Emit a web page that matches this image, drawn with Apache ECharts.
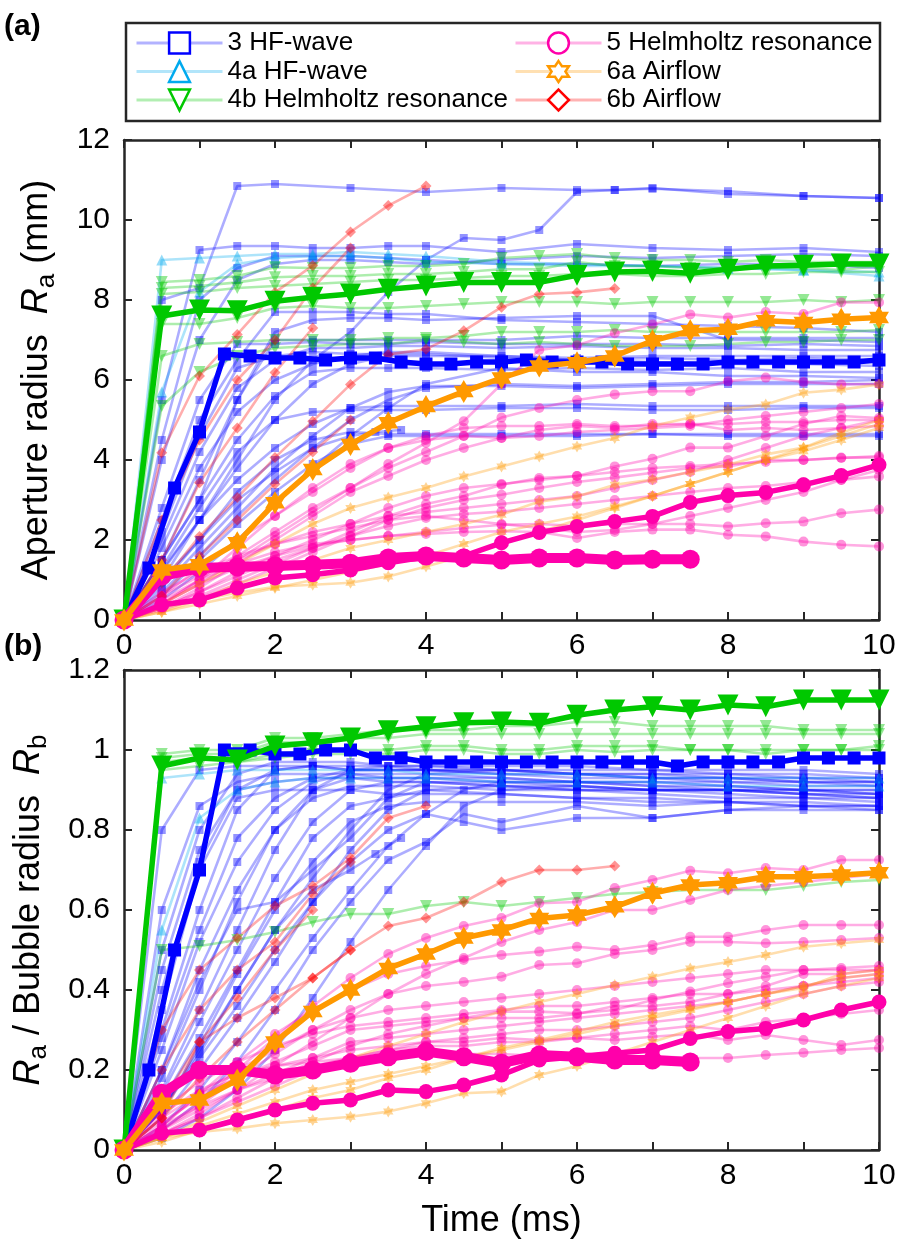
<!DOCTYPE html>
<html><head><meta charset="utf-8">
<script src="https://cdn.jsdelivr.net/npm/echarts@6/dist/echarts.min.js"></script>
<style>html,body{margin:0;padding:0;background:#fff}#c{width:898px;height:1253px}</style>
</head><body><div id="c"></div>
<script>
// ---------- time grids ----------
const tHalf = [0,0.5,1,1.5,2,2.5,3,3.5,4,4.5,5,5.5,6,6.5,7,7.5,8,8.5,9,9.5,10];
const tMix = [0,0.5,1,1.5,2,2.5,3,3.5,4,5,6,7,8,9,10];
const tMix45 = [0,0.5,1,1.5,2,2.5,3,3.5,4,4.5,5,6,7,8,9,10];
const tThird = [0,0.33,0.67,1,1.33,1.67,2,2.33,2.67,3,3.33,3.67,4,4.33,4.67,5,5.33,5.67,6,6.33,6.67,7,7.33,7.67,8,8.33,8.67,9,9.33,9.67,10];
const xTicks = [0,2,4,6,8,10];

// ---------- panel (a): aperture radius (mm) ----------
const blueA_mix = [
 [0,5.5,9.25,9.35,9.35,9.3,9.3,9.35,9.35,9.2,9.4,9.3,9.25,9.3,9.2],
 [0,4.0,7.0,8.5,8.9,9.0,9.0,8.95,8.9,9.0,9.1,9.05,9.1,9.15,9.1],
 [0,2.5,5.0,6.5,7.7,7.7,7.7,7.65,7.65,7.5,7.45,7.4,7.35,7.3,7.2],
 [0,1.5,3.0,5.5,7.2,7.5,7.55,7.55,7.5,7.55,7.6,7.6,7.0,7.0,6.95],
 [0,1.5,3.5,5.5,7.0,7.0,7.0,7.0,7.0,7.0,7.1,7.05,7.05,7.05,7.05],
 [0,2.0,4.2,5.8,6.5,6.8,6.8,6.85,6.85,6.8,6.85,6.8,6.8,6.75,6.75],
 [0,1.0,2.5,3.8,5.0,5.9,6.4,6.6,6.6,6.6,6.55,6.6,6.6,6.6,6.6],
 [0,1.5,3.0,4.5,5.6,6.2,6.3,6.3,6.3,6.25,6.3,6.25,6.3,6.2,6.2],
 [0,0.8,1.8,2.8,3.8,4.6,5.3,5.7,5.85,5.85,5.8,5.85,5.9,5.9,5.9],
 [0,1.2,2.5,3.5,4.3,4.9,5.3,5.35,5.35,5.35,5.4,5.35,5.35,5.35,5.35],
 [0,1.0,2.0,3.2,4.0,4.5,4.7,4.65,4.65,4.65,4.65,4.65,4.65,4.65,4.65],
 [0,0.6,1.5,2.4,3.2,3.9,4.4,4.6,4.6,4.6,4.6,4.65,4.6,4.6,4.6],
 [0,1.8,3.8,5.2,6.0,6.4,6.6,6.7,6.7,6.6,6.5,6.45,6.4,6.4,6.35],
 [0,0.5,1.2,2.0,2.9,3.8,4.6,5.3,5.9,6.3,6.2,6.2,6.1,6.1,6.05],
 [0,2.8,5.5,6.9,6.9,6.95,6.9,6.9,6.95,6.9,6.9,6.9,6.85,6.9,6.85],
 [0,1.3,2.8,4.2,5.0,5.2,5.25,5.25,5.25,5.3,5.3,5.25,5.25,5.3,5.3],
 [0,4.5,8.0,8.8,9.1,9.1,9.1,9.05,9.0,8.9,8.9,8.85,8.9,8.9,8.8],
 [0,2.2,4.6,6.3,6.6,6.7,6.65,6.65,6.65,6.55,6.5,6.55,6.5,6.55,6.5],
 [0,0.7,1.6,2.6,3.5,4.3,5.0,5.5,5.8,5.9,5.85,5.9,5.95,5.95,6.0]
];
const blueA_pairs = [
 [[0,0],[0.5,8.0],[1,8.3],[1.5,10.85],[2,10.9],[3,10.8],[4,10.7],[5,10.8],[6,10.75],[6.5,10.75],[7,10.8],[8,10.65],[9,10.6],[10,10.55]],
 [[0,0],[1,2.5],[1.5,4.0],[2,5.5],[2.5,6.5],[3,7.2],[3.5,8.2],[4,9.0],[4.5,9.55],[5,9.5],[5.5,9.75],[6,10.7],[6.5,10.75],[7,10.78],[8,10.72],[9,10.6],[10,10.55]],
 [[0,0],[0.5,0.9],[1,2.0],[1.5,3.0],[2,3.7],[2.5,4.3],[3,4.6],[3.33,4.7],[3.67,4.75]]
];
const cyanA = [
 [0,9.0,9.05,9.1,9.15,9.15,9.2,9.15,9.1,8.95,8.9,8.85,8.8,8.75,8.6],
 [0,5.7,8.2,8.9,9.05,9.1,9.1,9.05,8.95,8.9,8.85,8.85,8.8,8.75,8.7]
];
const greenA = [
 [0,8.45,8.5,8.6,8.82,8.8,8.8,8.85,8.85,8.9,9.05,9.1,9.15,9.05,9.0,9.0,8.95,9.0,8.95,8.95,8.95],
 [0,8.3,8.35,8.44,8.57,8.6,8.6,8.65,8.65,8.7,8.77,8.77,8.95,8.85,8.85,8.8,8.8,8.8,8.8,8.75,8.85],
 [0,8.15,8.2,8.3,8.35,8.4,8.45,8.5,8.5,8.55,8.6,8.6,8.65,8.65,8.6,8.6,8.65,8.65,8.7,8.7,8.7],
 [0,7.4,7.4,7.55,7.8,7.85,7.8,7.8,7.85,7.9,7.95,7.95,7.95,7.9,7.95,7.95,7.95,7.95,8.0,7.95,8.0],
 [0,6.6,6.9,6.95,7.0,7.0,7.0,7.05,7.05,7.1,7.2,7.2,7.2,7.25,7.2,7.2,7.2,7.2,7.2,7.2,7.25],
 [0,5.35,6.2,6.6,6.8,6.85,6.9,6.9,7.0,6.95,6.9,6.95,6.9,6.85,6.85,6.85,6.9,6.95,6.95,7.0,7.0]
];
const pinkA = [
 [0,0.4,1.0,1.6,2.2,2.8,3.3,3.9,4.43,4.97,5.9,6.75,6.87,7.17,7.39,7.64,7.56,7.7,7.65,7.94,7.94],
 [0,0.4,0.9,1.5,2.1,2.7,3.3,3.8,4.2,4.6,5.06,5.3,5.5,5.64,5.72,5.72,5.97,6.06,5.95,5.89,5.9],
 [0,0.6,1.3,2.0,2.6,3.2,3.8,4.3,4.6,4.8,4.85,4.85,4.9,4.85,4.85,4.9,4.9,4.95,4.95,5.0,5.0],
 [0,0.3,0.8,1.4,2.0,2.6,3.2,3.6,4.0,4.3,4.55,4.75,4.85,4.8,4.9,4.9,4.75,4.8,4.75,4.8,4.85],
 [0,0.3,0.7,1.2,1.6,2.0,2.4,2.8,3.1,3.3,3.4,3.5,3.6,3.7,3.8,3.85,3.9,3.95,4.0,4.05,4.1],
 [0,0.3,0.6,1.0,1.4,1.8,2.2,2.6,2.9,3.1,3.38,3.55,3.6,3.84,4.03,4.31,4.31,4.6,4.9,5.1,5.05],
 [0,0.25,0.55,0.9,1.3,1.7,2.1,2.5,2.8,3.0,3.13,3.3,3.45,3.56,3.68,3.8,3.84,4.0,4.0,4.06,4.06],
 [0,0.3,0.7,1.1,1.5,1.8,2.1,2.35,2.55,2.65,2.71,2.8,2.9,3.0,3.1,3.2,3.3,3.35,3.45,3.5,3.59],
 [0,0.4,0.9,1.3,1.6,1.85,2.0,2.1,2.2,2.3,2.38,2.4,2.35,2.4,2.4,2.4,2.34,2.42,2.46,2.67,2.76],
 [0,0.5,1.0,1.4,1.7,1.9,2.0,2.1,2.15,2.2,2.22,2.2,2.05,2.2,2.26,2.26,2.13,2.09,1.96,1.88,1.84],
 [0,0.6,1.1,1.5,1.9,2.2,2.4,2.6,2.7,2.8,2.9,3.0,3.1,3.3,3.5,3.7,4.0,4.3,4.6,4.8,5.0],
 [0,0.7,1.2,1.6,1.9,2.1,2.3,2.5,2.6,2.5,2.4,2.3,2.2,2.25,2.4,2.6,2.8,3.0,3.2,3.5,3.75],
 [0,0.4,1.0,1.8,2.6,3.3,3.9,4.3,4.5,4.6,4.55,4.6,4.7,4.75,4.8,4.85,5.0,5.1,5.2,5.3,5.4]
];
const orangeA = [
 [0,0.3,0.5,0.68,0.83,0.88,0.93,1.09,1.34,1.6,1.9,2.2,2.5,2.8,3.1,3.4,3.7,4.0,4.3,4.6,4.9],
 [0,0.4,0.9,1.4,1.9,2.4,2.8,3.06,3.3,3.59,3.84,4.09,4.34,4.55,4.85,5.06,5.26,5.39,5.68,5.76,5.89],
 [0,0.2,0.5,0.9,1.2,1.5,1.8,2.0,2.2,2.4,2.63,2.96,3.09,3.38,3.51,3.7,3.88,4.14,4.31,4.68,5.0],
 [0,0.2,0.4,0.6,0.8,1.0,1.2,1.4,1.6,1.9,2.2,2.4,2.59,2.84,3.1,3.4,3.7,4.0,4.22,4.5,4.8]
];
const redA = [
 [0,4.18,6.1,7.14,8.19,8.86,9.7,10.36,10.85],
 [0,0.93,2.09,3.06,4.06,4.97,5.89,6.64,6.77,7.23,7.82,8.15,8.19,8.29],
 [0,2.5,4.5,6.0,7.0,8.3,9.3],
 [0,1.5,3.43,4.8,6.19,7.3],
 [0,0.6,1.6,2.5,3.4,4.2,5.0]
];
const boldBlueA = [0,1.3,3.3,4.7,6.65,6.6,6.55,6.55,6.5,6.55,6.55,6.45,6.4,6.4,6.45,6.45,6.5,6.45,6.45,6.45,6.4,6.4,6.4,6.4,6.45,6.45,6.45,6.45,6.45,6.45,6.5];
const boldGreenA = [0,7.6,7.75,7.73,7.97,8.07,8.15,8.27,8.35,8.44,8.44,8.44,8.62,8.7,8.72,8.67,8.77,8.85,8.87,8.9,8.9];
const boldOrangeA = [0,1.25,1.38,1.93,2.93,3.76,4.39,4.93,5.34,5.71,6.05,6.35,6.43,6.6,6.98,7.23,7.27,7.48,7.44,7.52,7.56];
const boldPink1A = [0,1.1,1.3,1.33,1.35,1.38,1.42,1.55,1.6,1.55,1.5,1.55,1.55,1.5,1.52,1.52];
const boldPink2A = [0,0.38,0.5,0.8,1.05,1.13,1.25,1.43,1.58,1.6,1.93,2.19,2.34,2.46,2.59,2.94,3.11,3.19,3.38,3.61,3.88];

// ---------- panel (b): Ra / Rb ----------
const blueB_mix = [
 [0,0.8,0.95,0.96,0.96,0.96,0.95,0.95,0.95,0.94,0.93,0.93,0.92,0.92,0.91],
 [0,0.3,0.6,0.85,0.95,0.96,0.95,0.95,0.95,0.95,0.94,0.94,0.93,0.93,0.92],
 [0,0.15,0.35,0.55,0.75,0.9,0.95,0.96,0.95,0.95,0.94,0.93,0.93,0.92,0.92],
 [0,0.1,0.25,0.4,0.55,0.68,0.8,0.9,0.94,0.95,0.94,0.94,0.94,0.93,0.93],
 [0,0.45,0.75,0.9,0.92,0.93,0.93,0.92,0.92,0.91,0.9,0.9,0.89,0.88,0.88],
 [0,0.6,0.86,0.92,0.94,0.94,0.94,0.93,0.93,0.93,0.92,0.92,0.91,0.9,0.9],
 [0,0.2,0.45,0.65,0.8,0.88,0.91,0.91,0.91,0.9,0.9,0.89,0.88,0.88,0.87],
 [0,0.08,0.2,0.33,0.47,0.62,0.75,0.85,0.9,0.91,0.91,0.9,0.9,0.89,0.89],
 [0,0.12,0.28,0.45,0.62,0.78,0.86,0.88,0.9,0.89,0.88,0.87,0.87,0.86,0.86],
 [0,0.5,0.8,0.94,0.97,0.97,0.97,0.96,0.96,0.96,0.96,0.95,0.95,0.95,0.94],
 [0,0.35,0.7,0.88,0.9,0.9,0.9,0.89,0.89,0.89,0.88,0.88,0.87,0.87,0.86],
 [0,0.18,0.4,0.62,0.8,0.9,0.93,0.93,0.93,0.92,0.92,0.91,0.91,0.9,0.9],
 [0,0.25,0.52,0.72,0.85,0.92,0.94,0.94,0.94,0.93,0.92,0.92,0.92,0.91,0.91],
 [0,0.4,0.72,0.9,0.95,0.96,0.96,0.96,0.96,0.95,0.95,0.95,0.94,0.94,0.93],
 [0,0.14,0.32,0.5,0.68,0.82,0.9,0.92,0.92,0.91,0.9,0.9,0.9,0.89,0.88],
 [0,0.2,0.42,0.6,0.62,0.7,0.78,0.88,0.92,0.92,0.91,0.9,0.9,0.9,0.89],
 [0,0.28,0.55,0.78,0.88,0.93,0.95,0.95,0.95,0.94,0.94,0.93,0.93,0.92,0.92],
 [0,0.1,0.26,0.44,0.6,0.72,0.82,0.86,0.87,0.87,0.87,0.86,0.87,0.86,0.86]
];
const blueB_mix45 = [
 [0,0.05,0.12,0.22,0.35,0.5,0.62,0.725,0.77,0.84,0.82,0.86,0.83,0.85,0.85,0.85],
 [0,0.06,0.15,0.27,0.4,0.53,0.65,0.76,0.84,0.9,0.92,0.92,0.91,0.9,0.9,0.89],
 [0,0.1,0.23,0.36,0.5,0.62,0.72,0.8,0.84,0.82,0.8,0.83,0.83,0.85,0.86,0.85],
 [0,0.03,0.08,0.15,0.25,0.38,0.52,0.65,0.76,0.86,0.9,0.91,0.9,0.9,0.89,0.88]
];
const blueB_pairs = [
 [[0,0],[0.5,0.1],[1,0.24],[1.5,0.4],[2,0.55],[2.5,0.65],[3,0.7],[3.33,0.74],[3.67,0.78]]
];
const cyanB = [
 [0,0.93,0.94,0.95,0.95,0.95,0.95,0.95,0.94,0.94,0.94,0.93,0.93,0.93,0.93],
 [0,0.55,0.83,0.9,0.92,0.93,0.93,0.93,0.93,0.92,0.92,0.92,0.91,0.91,0.91]
];
const greenB = [
 [0,0.99,1.0,1.0,1.03,1.03,1.04,1.05,1.05,1.05,1.06,1.06,1.07,1.07,1.06,1.06,1.06,1.06,1.05,1.05,1.05],
 [0,0.98,0.99,0.99,1.02,1.02,1.03,1.03,1.04,1.04,1.04,1.04,1.04,1.04,1.04,1.04,1.04,1.04,1.04,1.04,1.04],
 [0,0.97,0.98,0.97,0.99,1.0,1.0,1.0,1.01,1.01,1.0,1.0,1.01,1.01,1.01,1.0,1.0,1.0,1.0,1.0,1.01],
 [0,0.95,0.96,0.97,0.98,0.99,0.99,0.99,1.0,1.0,0.99,0.99,1.0,0.995,1.0,1.0,1.0,0.99,1.0,1.0,1.0],
 [0,0.5,0.51,0.525,0.545,0.57,0.59,0.59,0.61,0.62,0.61,0.62,0.63,0.64,0.645,0.65,0.65,0.65,0.66,0.67,0.675]
];
const pinkB = [
 [0,0.05,0.12,0.2,0.28,0.36,0.43,0.49,0.53,0.56,0.58,0.617,0.62,0.655,0.675,0.698,0.692,0.705,0.70,0.725,0.725],
 [0,0.04,0.09,0.15,0.21,0.27,0.33,0.39,0.44,0.48,0.52,0.55,0.57,0.6,0.6,0.625,0.65,0.66,0.67,0.68,0.69],
 [0,0.06,0.14,0.22,0.29,0.35,0.4,0.44,0.46,0.475,0.4875,0.496,0.508,0.5,0.5125,0.533,0.533,0.55,0.5625,0.5625,0.5625],
 [0,0.05,0.11,0.18,0.24,0.3,0.35,0.39,0.41,0.42,0.433,0.4625,0.467,0.49,0.5,0.52,0.52,0.517,0.52,0.525,0.53],
 [0,0.04,0.08,0.13,0.18,0.22,0.26,0.29,0.31,0.33,0.346,0.346,0.342,0.35,0.375,0.396,0.417,0.433,0.45,0.455,0.46],
 [0,0.07,0.13,0.18,0.22,0.26,0.3,0.31,0.32,0.33,0.33,0.33,0.34,0.36,0.36,0.37,0.39,0.41,0.44,0.44,0.45],
 [0,0.05,0.1,0.15,0.19,0.23,0.27,0.28,0.29,0.3,0.31,0.32,0.33,0.34,0.35,0.36,0.37,0.39,0.41,0.43,0.44],
 [0,0.04,0.08,0.12,0.16,0.2,0.23,0.25,0.27,0.28,0.29,0.3,0.3,0.31,0.32,0.33,0.35,0.37,0.39,0.41,0.42],
 [0,0.06,0.11,0.15,0.18,0.21,0.23,0.25,0.26,0.26,0.27,0.27,0.28,0.29,0.3,0.31,0.3,0.32,0.33,0.34,0.35],
 [0,0.08,0.14,0.18,0.21,0.23,0.25,0.26,0.27,0.27,0.28,0.275,0.28,0.275,0.283,0.29,0.275,0.2875,0.275,0.2625,0.275],
 [0,0.09,0.15,0.19,0.21,0.22,0.23,0.235,0.24,0.24,0.24,0.235,0.23,0.23,0.235,0.23,0.23,0.2375,0.243,0.25,0.255],
 [0,0.06,0.14,0.2,0.25,0.3,0.33,0.35,0.36,0.37,0.38,0.39,0.4,0.41,0.42,0.43,0.44,0.45,0.45,0.45,0.45],
 [0,0.1,0.17,0.22,0.26,0.29,0.31,0.32,0.33,0.34,0.35,0.36,0.36,0.37,0.38,0.39,0.39,0.40,0.41,0.42,0.43]
];
const orangeB = [
 [0,0.03,0.045,0.054,0.067,0.075,0.083,0.096,0.117,0.142,0.146,0.1875,0.21,0.24,0.27,0.3,0.33,0.36,0.39,0.41,0.43],
 [0,0.03,0.07,0.11,0.15,0.19,0.23,0.26,0.29,0.32,0.346,0.37,0.39,0.4125,0.433,0.454,0.47,0.4875,0.508,0.517,0.525],
 [0,0.02,0.05,0.08,0.1,0.13,0.15,0.18,0.2,0.23,0.255,0.275,0.296,0.32,0.3375,0.354,0.37,0.39,0.405,0.44,0.45],
 [0,0.03,0.06,0.09,0.12,0.15,0.17,0.19,0.21,0.23,0.25,0.27,0.29,0.31,0.33,0.35,0.37,0.39,0.41,0.43,0.44]
];
const redB = [
 [0,0.3,0.45,0.53,0.61,0.66,0.73,0.83,0.86],
 [0,0.08,0.27,0.33,0.38,0.43,0.5,0.56,0.58,0.62,0.67,0.7,0.7,0.71],
 [0,0.2,0.35,0.45,0.52,0.64,0.72],
 [0,0.12,0.27,0.38,0.5,0.6],
 [0,0.08,0.18,0.27,0.35,0.43,0.5]
];
const boldBlueB = [0,0.2,0.5,0.7,1.0,1.0,0.99,0.99,1.0,1.0,0.98,0.98,0.97,0.97,0.97,0.97,0.97,0.97,0.97,0.97,0.97,0.97,0.96,0.97,0.97,0.97,0.97,0.98,0.98,0.98,0.98];
const boldGreenB = [0,0.96,0.98,0.975,1.01,1.018,1.03,1.048,1.058,1.068,1.07,1.067,1.087,1.1,1.108,1.1,1.1125,1.108,1.125,1.125,1.125];
const boldOrangeB = [0,0.117,0.125,0.175,0.27,0.346,0.40,0.454,0.49,0.53,0.55,0.579,0.5875,0.608,0.642,0.6625,0.668,0.683,0.683,0.6875,0.693];
const boldPink1B = [0,0.142,0.2,0.2,0.1875,0.2,0.217,0.233,0.246,0.233,0.217,0.2375,0.233,0.225,0.225,0.22];
const boldPink2B = [0,0.042,0.05,0.075,0.1,0.117,0.125,0.15,0.146,0.1625,0.1875,0.225,0.233,0.242,0.25,0.279,0.296,0.304,0.325,0.35,0.37];

const legendNames = ['3 HF-wave','4a HF-wave','4b Helmholtz resonance','5 Helmholtz resonance','6a Airflow','6b Airflow'];

// ---------- styles ----------
const FONT = '"Liberation Sans", Arial, Helvetica, sans-serif';
const AX = '#262626';
const STAR = 'path://M100,0L128.9,50L186.6,50L157.7,100L186.6,150L128.9,150L100,200L71.1,150L13.4,150L42.3,100L13.4,50L71.1,50Z';
const S = {
  blue:   {color:'#0000FF', symbol:'rect', size:8, rot:0},
  cyan:   {color:'#00AAEE', symbol:'triangle', size:11, rot:0},
  green:  {color:'#00C800', symbol:'triangle', size:12, rot:180},
  pink:   {color:'#FF00AA', symbol:'circle', size:10, rot:0},
  orange: {color:'#FF9900', symbol:STAR, size:12, rot:0},
  red:    {color:'#FF0000', symbol:'diamond', size:11, rot:0}
};

const pairs = (t, v) => v.map((y, i) => [t[i], y]);

function faint(data, st, ax) {
  return {type:'line', xAxisIndex:ax, yAxisIndex:ax, data:data, symbol:st.symbol, symbolSize:st.size,
    symbolRotate:st.rot, showSymbol:true, showAllSymbol:true, symbolKeepAspect:true,
    lineStyle:{color:st.color, width:2.6, opacity:0.32}, itemStyle:{color:st.color, opacity:0.42},
    emphasis:{disabled:true}, silent:true, z:2, animation:false};
}
function bold(data, st, ax, lw, sz, z) {
  return {type:'line', xAxisIndex:ax, yAxisIndex:ax, data:data, symbol:st.symbol, symbolSize:sz,
    symbolRotate:st.rot, showSymbol:true, showAllSymbol:true, symbolKeepAspect:true,
    lineStyle:{color:st.color, width:lw, opacity:1}, itemStyle:{color:st.color, opacity:1},
    emphasis:{disabled:true}, silent:true, z:z, animation:false};
}

const series = [];
// panel a faint
blueA_mix.forEach(v => series.push(faint(pairs(tMix, v), S.blue, 0)));
blueA_pairs.forEach(p => series.push(faint(p, S.blue, 0)));
cyanA.forEach(v => series.push(faint(pairs(tMix, v), S.cyan, 0)));
greenA.forEach(v => series.push(faint(pairs(tHalf, v), S.green, 0)));
pinkA.forEach(v => series.push(faint(pairs(tHalf, v), S.pink, 0)));
orangeA.forEach(v => series.push(faint(pairs(tHalf, v), S.orange, 0)));
redA.forEach(v => series.push(faint(pairs(tHalf, v), S.red, 0)));
// panel b faint
blueB_mix.forEach(v => series.push(faint(pairs(tMix, v), S.blue, 2)));
blueB_mix45.forEach(v => series.push(faint(pairs(tMix45, v), S.blue, 2)));
blueB_pairs.forEach(p => series.push(faint(p, S.blue, 2)));
cyanB.forEach(v => series.push(faint(pairs(tMix, v), S.cyan, 2)));
greenB.forEach(v => series.push(faint(pairs(tHalf, v), S.green, 2)));
pinkB.forEach(v => series.push(faint(pairs(tHalf, v), S.pink, 2)));
orangeB.forEach(v => series.push(faint(pairs(tHalf, v), S.orange, 2)));
redB.forEach(v => series.push(faint(pairs(tHalf, v), S.red, 2)));
// bold
[[0, boldBlueA, boldGreenA, boldOrangeA, boldPink1A, boldPink2A],
 [2, boldBlueB, boldGreenB, boldOrangeB, boldPink1B, boldPink2B]].forEach(g => {
  const ax = g[0];
  series.push(bold(pairs(tThird, g[1]), S.blue, ax, 5.5, 13, 5));
  series.push(bold(pairs(tHalf, g[2]), S.green, ax, 5.5, 21, 6));
  series.push(bold(pairs(tHalf, g[5]), S.pink, ax, 5.5, 15, 7));
  series.push(bold(pairs(tHalf, g[4]), S.pink, ax, 10, 19, 7));
  series.push(bold(pairs(tHalf, g[3]), S.orange, ax, 5.5, 23, 8));
});
// legend dummies
const legStyles = [S.blue, S.cyan, S.green, S.pink, S.orange, S.red];
legendNames.forEach((n, i) => {
  const st = legStyles[i];
  series.push({type:'line', name:n, xAxisIndex:0, yAxisIndex:0, data:[], symbol:st.symbol, symbolRotate:st.rot,
    symbolKeepAspect:true, lineStyle:{color:st.color, opacity:0.3, width:3}, itemStyle:{color:st.color}});
});
const legItem = i => ({name:legendNames[i], itemStyle:{color:'#fff', borderColor:legStyles[i].color, borderWidth:2.5, opacity:1},
  lineStyle:{color:legStyles[i].color, opacity:0.3, width:3}});

function xAx(grid, pos, labels, name) {
  return {type:'value', gridIndex:grid, position:pos, min:0, max:10, interval:1,
    axisLine:{show:true, onZero:false, lineStyle:{color:AX, width:2.5}},
    axisTick:{show:true, inside:true, length:8, lineStyle:{color:AX, width:2}},
    axisLabel:{show:labels, formatter:v => (xTicks.indexOf(v) >= 0 ? String(v) : ''), fontSize:30, color:'#000', fontFamily:FONT, margin:11},
    splitLine:{show:false},
    name:name || '', nameLocation:'middle', nameGap:53, nameTextStyle:{fontSize:36, color:'#000', fontFamily:FONT}};
}
const richName = {
  t:{fontSize:36, fontFamily:FONT, color:'#000'},
  i:{fontSize:36, fontFamily:FONT, fontStyle:'italic', color:'#000'},
  s:{fontSize:26, fontFamily:FONT, color:'#000', padding:[20,0,0,0]}
};
function yAx(grid, pos, max, interval, labels, name, gap) {
  return {type:'value', gridIndex:grid, position:pos, min:0, max:max, interval:interval,
    axisLine:{show:true, onZero:false, lineStyle:{color:AX, width:2.5}},
    axisTick:{show:true, inside:true, length:8, lineStyle:{color:AX, width:2}},
    axisLabel:{show:labels, fontSize:30, color:'#000', fontFamily:FONT, margin:14},
    splitLine:{show:false},
    name:name || '', nameLocation:'middle', nameGap:gap || 0, nameRotate:90,
    nameTextStyle:{fontSize:36, color:'#000', fontFamily:FONT, rich:richName}};
}

const option = {
  animation:false,
  backgroundColor:'#fff',
  grid:[
    {left:124, top:140, width:755, height:480, outerBoundsMode:'none', containLabel:false},
    {left:124, top:670, width:755, height:480, outerBoundsMode:'none', containLabel:false}
  ],
  xAxis:[ xAx(0,'bottom',true), xAx(0,'top',false), xAx(1,'bottom',true,'Time (ms)'), xAx(1,'top',false) ],
  yAxis:[
    yAx(0,'left',12,2,true,'{t|Aperture radius  }{i|R}{s|a}{t| (mm)}',64),
    yAx(0,'right',12,2,false),
    yAx(1,'left',1.2,0.2,true,'{i|R}{s|a}{t| / Bubble radius  }{i|R}{s|b}',72),
    yAx(1,'right',1.2,0.2,false)
  ],
  legend:[
    {orient:'vertical', left:135, top:30, padding:0, itemWidth:86, itemHeight:26, itemGap:2.5,
     textStyle:{fontSize:26, fontFamily:FONT, color:'#000', lineHeight:26}, data:[legItem(0),legItem(1),legItem(2)], selectedMode:false},
    {orient:'vertical', left:514, top:30, padding:0, itemWidth:86, itemHeight:26, itemGap:2.5,
     textStyle:{fontSize:26, fontFamily:FONT, color:'#000', lineHeight:26}, data:[legItem(3),legItem(4),legItem(5)], selectedMode:false}
  ],
  graphic:[
    {type:'rect', shape:{x:126, y:23, width:754, height:98}, style:{fill:'none', stroke:AX, lineWidth:2.5}, z:10, silent:true},
    {type:'text', x:4, y:27, style:{text:'(a)', font:'bold 30px ' + FONT, fill:'#000', verticalAlign:'middle'}, z:10},
    {type:'text', x:4, y:647, style:{text:'(b)', font:'bold 30px ' + FONT, fill:'#000', verticalAlign:'middle'}, z:10}
  ],
  series:series
};

const chart = echarts.init(document.getElementById('c'), null, {renderer:'canvas'});
chart.setOption(option);
</script></body></html>
